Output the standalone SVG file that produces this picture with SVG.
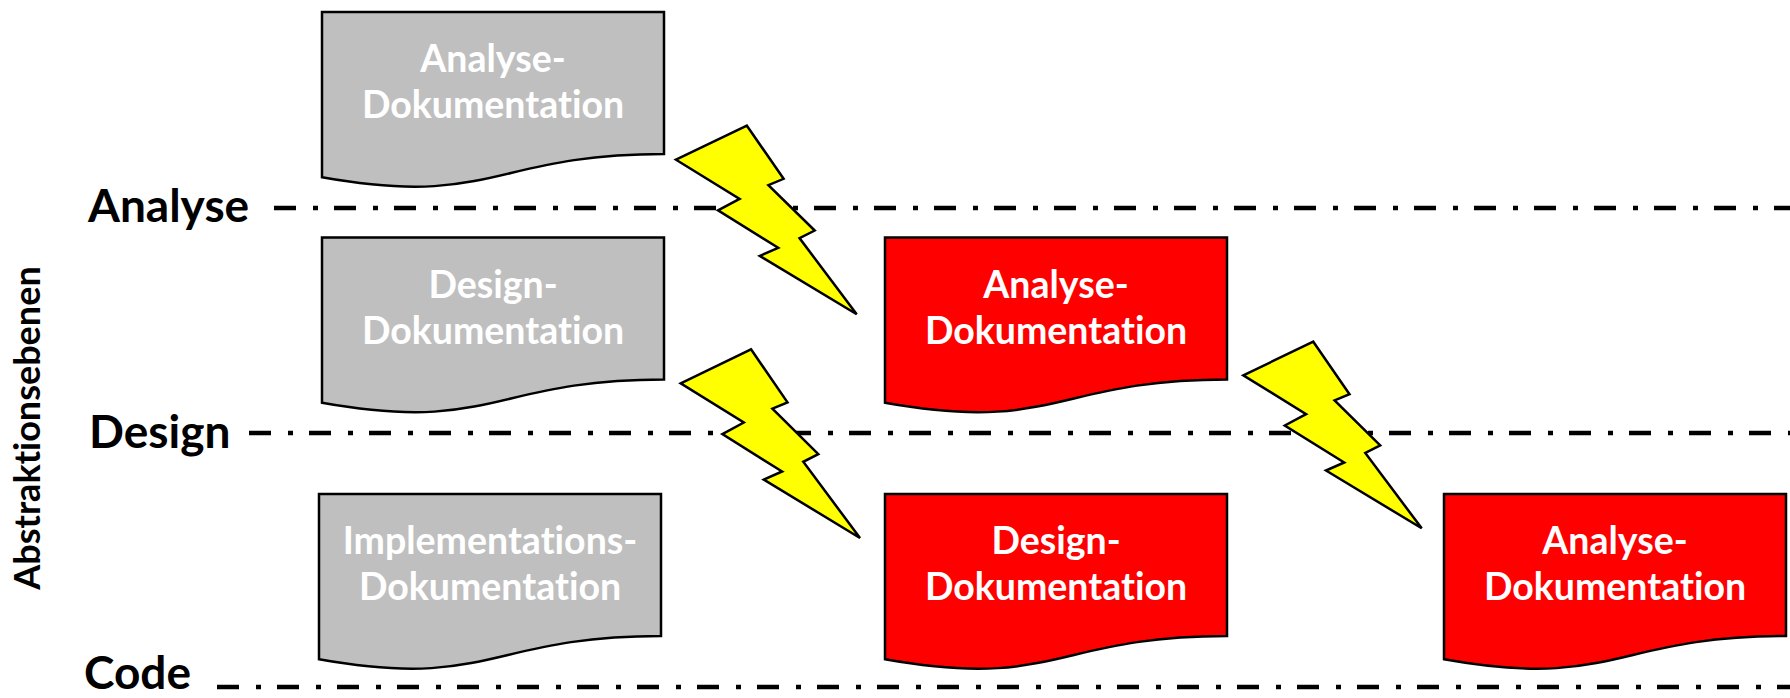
<svg xmlns="http://www.w3.org/2000/svg" width="1790" height="698" viewBox="0 0 1790 698">
<style>
text{font-variant-ligatures:none;font-feature-settings:"liga" 0,"clig" 0}
.lvl{fill:none;stroke:#000;stroke-width:4.5;stroke-dasharray:22 17 5 16}
.gray{fill:#bfbfbf;stroke:#000;stroke-width:2.5}
.red{fill:#ff0000;stroke:#000;stroke-width:2.5}
.bolt{fill:#ffff00;stroke:#000;stroke-width:2.5;stroke-linejoin:miter}
.dt{font-family:Lato,"Liberation Sans",sans-serif;font-weight:bold;font-size:37.5px;fill:#ffffff;text-anchor:middle}
.lb{font-family:Lato,"Liberation Sans",sans-serif;font-weight:bold;font-size:46px;fill:#000}
.vt{font-family:Lato,"Liberation Sans",sans-serif;font-weight:bold;font-size:36px;fill:#000;text-anchor:middle}
</style>
<rect width="1790" height="698" fill="#ffffff"/>
<g id="connectors">
<line class="lvl" x1="274" y1="208" x2="1790" y2="208"/>
<line class="lvl" x1="249" y1="433" x2="1790" y2="433"/>
<line class="lvl" x1="217" y1="687" x2="1790" y2="687"/>
</g>
<g id="labels">
<text class="lb" x="88" y="222">Analyse</text>
<text class="lb" x="89" y="448">Design</text>
<text class="lb" x="84" y="689">Code</text>
<text class="vt" transform="translate(40,428) rotate(-90)">Abstraktionsebenen</text>
</g>
<g id="doc-analyse-gray">
<path class="gray" d="M322,12 H664 V154 C493,154 493,208 322,177.3 Z"/>
<text class="dt" x="493" y="72">Analyse-</text>
<text class="dt" x="493" y="118">Dokumentation</text>
</g>
<g id="doc-design-gray">
<path class="gray" d="M322,237.5 H664 V379.5 C493,379.5 493,433.5 322,402.8 Z"/>
<text class="dt" x="493" y="297.5">Design-</text>
<text class="dt" x="493" y="343.5">Dokumentation</text>
</g>
<g id="doc-impl-gray">
<path class="gray" d="M319,494 H661 V636 C490,636 490,690 319,659.3 Z"/>
<text class="dt" x="490" y="554">Implementations-</text>
<text class="dt" x="490" y="600">Dokumentation</text>
</g>
<g id="doc-analyse-red1">
<path class="red" d="M885,237.5 H1227 V379.5 C1056,379.5 1056,433.5 885,402.8 Z"/>
<text class="dt" x="1056" y="297.5">Analyse-</text>
<text class="dt" x="1056" y="343.5">Dokumentation</text>
</g>
<g id="doc-design-red">
<path class="red" d="M885,494 H1227 V636 C1056,636 1056,690 885,659.3 Z"/>
<text class="dt" x="1056" y="554">Design-</text>
<text class="dt" x="1056" y="600">Dokumentation</text>
</g>
<g id="doc-analyse-red2">
<path class="red" d="M1444,494 H1786 V636 C1615,636 1615,690 1444,659.3 Z"/>
<text class="dt" x="1615" y="554">Analyse-</text>
<text class="dt" x="1615" y="600">Dokumentation</text>
</g>
<g id="bolt1">
<path class="bolt" d="M746.9,125.7 L783.6,178.8 L768.4,185.1 L814.7,230.5 L799.5,238.1 L856.7,314.3 L759.8,255.9 L778.2,247.8 L718,210.4 L739.6,198.9 L676,159.7 Z"/>
</g>
<g id="bolt2">
<path class="bolt" d="M751,349.3 L787.5,402.4 L772.4,408.7 L818.3,454.2 L803.3,461.8 L860,538 L763.8,479.6 L782.1,471.5 L722.4,434.1 L743.8,422.5 L680.7,383.3 Z"/>
</g>
<g id="bolt3">
<path class="bolt" d="M1313.3,341.7 L1349.5,394.2 L1334.6,400.4 L1380.2,445.4 L1365.3,453 L1421.7,528.3 L1326,470.5 L1344.2,462.5 L1284.8,425.5 L1306.1,414.1 L1243.3,375.3 Z"/>
</g>
</svg>
